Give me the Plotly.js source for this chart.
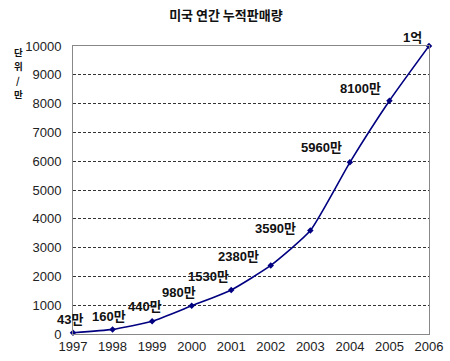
<!DOCTYPE html>
<html>
<head>
<meta charset="utf-8">
<script src="https://cdn.plot.ly/plotly-3.0.1.min.js"></script>
<style>html,body{margin:0;padding:0;background:#fff;}#chart{width:450px;height:361px;}</style>
</head>
<body>
<div id="chart"></div>
<script>
// Data
const years = [1997, 1998, 1999, 2000, 2001, 2002, 2003, 2004, 2005, 2006];
const sales = [43, 160, 440, 980, 1530, 2380, 3590, 5960, 8100, 10000];
const labels = ['43만', '160만', '440만', '980만', '1530만', '2380만', '3590만', '5960만', '8100만', '1억'];
const yTicks = [0, 1000, 2000, 3000, 4000, 5000, 6000, 7000, 8000, 9000, 10000];
const yTitleChars = ['단', '위', '/', '만'];

// label placement offsets (px), layout only
const labelDx = [-3, -4, -7, -13, -23, -32, -35, -28, -29, -17];
const labelDy = [13, 13, 15, 13, 13, 9, 2, 15, 12, 9];
const yTitlePx = [52, 66, 80, 94];

const font = '"Liberation Sans", Arial, "Noto Sans CJK KR", sans-serif';
const kfont = '"Noto Sans CJK KR", "Liberation Sans", sans-serif';

const trace = {
  x: years, y: sales, type: 'scatter', mode: 'lines+markers',
  line: {color: '#000080', width: 1.6, shape: 'spline', smoothing: 0.5},
  marker: {symbol: 'diamond', size: 5, color: '#000080'},
  cliponaxis: false, hoverinfo: 'x+y'
};

const annotations = labels.map((t, i) => ({
  x: years[i], y: sales[i], xref: 'x', yref: 'y', text: '<b>' + t + '</b>',
  showarrow: false, xshift: labelDx[i], yshift: labelDy[i],
  font: {family: font, size: 13, color: '#111'}
}));
yTitleChars.forEach((c, i) => annotations.push({
  xref: 'paper', yref: 'paper', x: (18 - 73) / 356, y: (334 - yTitlePx[i]) / 288,
  xanchor: 'center', yanchor: 'middle', text: '<b>' + c + '</b>', showarrow: false,
  font: {family: kfont, size: 9.5, color: '#111'}
}));

const layout = {
  width: 450, height: 361,
  margin: {l: 73, r: 21, t: 46, b: 27, pad: 0},
  paper_bgcolor: '#fff', plot_bgcolor: '#fff',
  showlegend: false,
  title: {text: '<b>미국 연간 누적판매량</b>', x: 0.502, xanchor: 'center', y: 0.958, yanchor: 'middle',
          font: {family: kfont, size: 13, color: '#111'}},
  xaxis: {
    range: [1997, 2006], tickmode: 'array', tickvals: years, ticktext: years.map(String),
    showgrid: false, zeroline: false, showline: true, linecolor: '#888', linewidth: 1, mirror: true,
    ticks: '', tickfont: {family: font, size: 13, color: '#222'}, fixedrange: true
  },
  yaxis: {
    range: [0, 10000], tickmode: 'array', tickvals: yTicks, ticktext: yTicks.map(String),
    showgrid: true, gridcolor: '#333', griddash: '3px,2px', gridwidth: 1,
    zeroline: false, showline: true, linecolor: '#888', linewidth: 1, mirror: true,
    ticks: '', ticklabelstandoff: 8, tickfont: {family: font, size: 13, color: '#222'}, fixedrange: true
  },
  annotations: annotations
};

Plotly.newPlot('chart', [trace], layout, {displayModeBar: false, staticPlot: true});
</script>
</body>
</html>
